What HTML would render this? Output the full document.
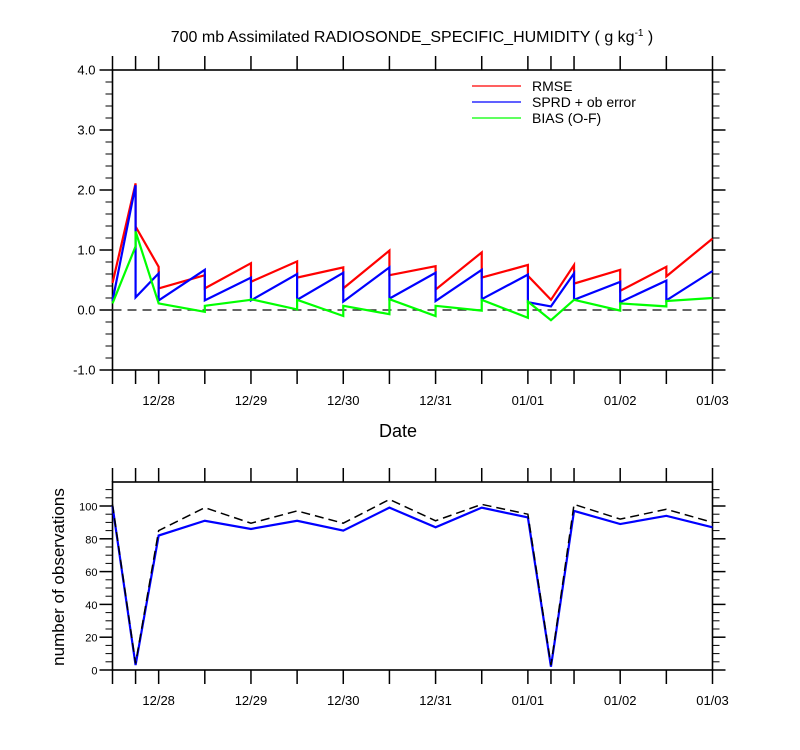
<!DOCTYPE html>
<html><head><meta charset="utf-8"><style>
body{margin:0;background:#fff}
svg{display:block;font-family:"Liberation Sans",Arial,sans-serif}
</style></head><body>
<svg id="c" width="800" height="750" xmlns="http://www.w3.org/2000/svg">
<text x="412" y="42" font-size="16" text-anchor="middle">700 mb Assimilated RADIOSONDE_SPECIFIC_HUMIDITY ( g kg<tspan dy="-6" font-size="10">-1</tspan><tspan dy="6"> )</tspan></text>
<g id="topPanel"></g>
<g id="botPanel"></g>
<text x="398" y="437" font-size="18" text-anchor="middle">Date</text>
<text transform="translate(64,577) rotate(-90)" font-size="17" text-anchor="middle">number of observations</text>
<g>
<line x1="472" y1="86" x2="521" y2="86" stroke="#f00" stroke-width="1.2"/>
<text x="532" y="91" font-size="14">RMSE</text>
<line x1="472" y1="102" x2="521" y2="102" stroke="#00f" stroke-width="1.2"/>
<text x="532" y="107" font-size="14">SPRD + ob error</text>
<line x1="472" y1="118" x2="521" y2="118" stroke="#0f0" stroke-width="1.2"/>
<text x="532" y="123" font-size="14">BIAS (O-F)</text>
</g>
</svg>
<script>
// time in hours from 12/27 12Z
const times=[0,6,12,24,36,48,60,72,84,96,108,114,120,132,144,156];
const dateLabels=["12/28","12/29","12/30","12/31","01/01","01/02","01/03"];
const dateHours=[12,36,60,84,108,132,156];
const rmsePrior=[0.45,2.11,0.72,0.58,0.78,0.81,0.71,0.99,0.73,0.96,0.75,0.17,0.75,0.67,0.72,1.19];
const rmsePost=[0.45,1.39,0.36,0.36,0.47,0.54,0.36,0.58,0.34,0.54,0.57,0.17,0.44,0.32,0.56,1.19];
const sprdPrior=[0.15,2.08,0.61,0.67,0.54,0.60,0.62,0.71,0.62,0.67,0.59,0.06,0.61,0.47,0.49,0.65];
const sprdPost=[0.15,0.21,0.16,0.16,0.16,0.17,0.14,0.19,0.15,0.18,0.13,0.06,0.17,0.13,0.16,0.65];
const biasPrior=[0.11,1.06,0.11,-0.03,0.17,0.01,-0.10,-0.07,-0.10,-0.01,-0.13,-0.17,0.17,-0.01,0.06,0.20];
const biasPost=[0.11,1.31,0.11,0.07,0.18,0.17,0.07,0.18,0.07,0.17,0.14,-0.17,0.17,0.11,0.15,0.20];
const obsUsed=[100,3,82,91,86,91,85,99,87,99,93,2,97,89,94,87];
const obsTotal=[101,4,85,99,89.5,97,89.5,104,91,101,95,3,101,92,98,90];
const yTicksTop=[-1,0,1,2,3,4];
const yTicksBot=[0,20,40,60,80,100];

const NS="http://www.w3.org/2000/svg";
const X0=112.5,X1=712.5;
const xs=h=>X0+(X1-X0)*h/156;
const yT=v=>370-(v+1)*60;
const yB=v=>670-v*1.64;
function el(p,tag,a){const e=document.createElementNS(NS,tag);for(const k in a)e.setAttribute(k,a[k]);p.appendChild(e);return e;}

function axes(g,ty,by,ticks,yf,fmt,minorStep,minorN,lbl){
  const f=el(g,'rect',{x:X0,y:ty,width:X1-X0,height:by-ty,fill:'none',stroke:'#000','stroke-width':1.6});
  
  
  times.forEach(h=>{
    const x=xs(h);
    const t1=el(g,'line',{x1:x,x2:x,y1:by,y2:by+14,stroke:'#000','stroke-width':1.5});
    
    
    const t2=el(g,'line',{x1:x,x2:x,y1:ty,y2:ty-14,stroke:'#000','stroke-width':1.5});
    
    
  });
  dateHours.forEach((h,i)=>{
    const t=el(g,'text',{x:xs(h),y:by+35,'font-size':13,'text-anchor':'middle'});
    t.textContent=dateLabels[i];
    
    
  });
  const vmax=lbl?115:ticks[ticks.length-1];
  const n=Math.round((vmax-ticks[0])/minorStep);
  for(let k=0;k<=n;k++){
    const v=ticks[0]+k*minorStep;
    const y=yf(v);if(y<ty-0.5)break;
    const maj=(k%minorN===0)&&v<=ticks[ticks.length-1]+1e-9;
    const L=maj?13:7;
    const a=el(g,'line',{x1:X0,x2:X0-L,y1:y,y2:y,stroke:'#000','stroke-width':maj?1.5:1});
    
    
    const b=el(g,'line',{x1:X1,x2:X1+L,y1:y,y2:y,stroke:'#000','stroke-width':maj?1.5:1});
    
    
  }
  ticks.forEach(v=>{
    const t=el(g,'text',{x:X0-(lbl?15:17),y:yf(v)+4.5,'font-size':lbl?11:13,'text-anchor':'end'});
    t.textContent=fmt(v);
    
    
  });
}
const gTop=document.getElementById('topPanel'),gBot=document.getElementById('botPanel');
axes(gTop,70,370,yTicksTop,yT,v=>v.toFixed(1),0.2,5,false);
axes(gBot,482,670,yTicksBot,yB,v=>String(v),5,4,true);

const z=el(gTop,'line',{x1:X0,x2:X1,y1:yT(0),y2:yT(0),stroke:'#333','stroke-width':1.5,'stroke-dasharray':'9,6'});



function saw(pr,po,color,name){
  let d='M'+xs(times[0])+','+yT(po[0]);
  for(let i=1;i<times.length;i++){d+=' L'+xs(times[i])+','+yT(pr[i])+' L'+xs(times[i])+','+yT(po[i]);}
  const p=el(gTop,'path',{d:d,fill:'none',stroke:color,'stroke-width':2.2,'stroke-linejoin':'miter'});
  
  
}
saw(rmsePrior,rmsePost,'#f00','rmse-line');
saw(sprdPrior,sprdPost,'#00f','sprd-line');
saw(biasPrior,biasPost,'#0f0','bias-line');

function line(vals,attrs,name){
  const d=vals.map((v,i)=>(i?'L':'M')+xs(times[i])+','+yB(v)).join(' ');
  const p=el(gBot,'path',Object.assign({d:d,fill:'none'},attrs));
  
  
}
line(obsUsed,{stroke:'#00f','stroke-width':2.2},'obs-used-line');
line(obsTotal,{stroke:'#000','stroke-width':1.5,'stroke-dasharray':'9,5'},'obs-total-line');
</script>
</body></html>
